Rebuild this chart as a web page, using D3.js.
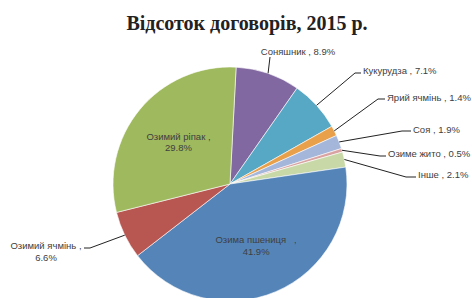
<!DOCTYPE html>
<html>
<head>
<meta charset="utf-8">
<script src="https://cdn.jsdelivr.net/npm/d3@7"></script>
<style>
  body { margin: 0; background: #fff; }
  svg { display: block; }
  text { white-space: pre; }
</style>
</head>
<body>
<svg class="chart"></svg>
<script>
// data
let categories = ['Соняшник', 'Кукурудза', 'Ярий ячмінь', 'Соя', 'Озиме жито', 'Інше', 'Озима пшениця  ', 'Озимий ячмінь', 'Озимий ріпак'];
let values = [8.9, 7.1, 1.4, 1.9, 0.5, 2.1, 41.9, 6.6, 29.8];
let colors = ['#8168a0', '#56a8c4', '#e9a04b', '#a4b6da', '#d9a3a3', '#c9d8a7', '#5585b8', '#b85651', '#9fb95e'];
let title = 'Відсоток договорів, 2015 р.';

let width = 472, height = 298;
let cx = 230, cy = 184, radius = 117;

// label layout, relative to pie centre: inside labels sit on the centroid,
// outside labels get a text spot and an elbow for the leader line
let layout = [
    {out: true, tx: 68, ty: -132, anchor: 'middle', ex: 40, ey: -127, lines: 1},
    {out: true, tx: 133, ty: -113, anchor: 'start', ex: 125, ey: -111, lines: 1},
    {out: true, tx: 157, ty: -86, anchor: 'start', ex: 148, ey: -85, lines: 1},
    {out: true, tx: 183, ty: -54, anchor: 'start', ex: 172, ey: -53, lines: 1},
    {out: true, tx: 158, ty: -30, anchor: 'start', ex: 150, ey: -28, lines: 1},
    {out: true, tx: 188, ty: -9, anchor: 'start', ex: 176, ey: -7, lines: 1},
    {out: false, lines: 2},
    {out: true, tx: -184, ty: 67, anchor: 'middle', ex: -140, ey: 64, lines: 2, tail: -146},
    {out: false, lines: 2}
];

let svg = d3.select('.chart')
    .attr('width', width)
    .attr('height', height);

svg.append('text')
    .attr('x', 247)
    .attr('y', 30)
    .attr('text-anchor', 'middle')
    .style('font-family', '"Liberation Serif", serif')
    .style('font-weight', 'bold')
    .style('font-size', '20px')
    .style('fill', '#222')
    .text(title);

let items = categories.map((c, i) => ({name: c, value: values[i], color: colors[i], lay: layout[i]}));

let pie = d3.pie()
    .sort(null)
    .value((d) => d.value)
    .startAngle(3 * Math.PI / 180)
    .endAngle(Math.PI * 2 + 3 * Math.PI / 180);

let arc = d3.arc().innerRadius(0).outerRadius(radius);
let labelArc = d3.arc().innerRadius(radius * 0.57).outerRadius(radius * 0.57);

let g = svg.append('g')
    .attr('transform', 'translate(' + cx + ',' + cy + ')');

let arcs = pie(items);

g.selectAll('.slice')
    .data(arcs)
    .enter()
    .append('path')
    .attr('class', 'slice')
    .attr('d', arc)
    .style('fill', (d) => d.data.color)
    .style('stroke', '#fff')
    .style('stroke-width', 0.6);

let fmt = (v) => v.toFixed(1) + '%';

// leader lines
g.selectAll('.leader')
    .data(arcs.filter((d) => d.data.lay.out))
    .enter()
    .append('polyline')
    .attr('class', 'leader')
    .attr('points', (d) => {
        let a = (d.startAngle + d.endAngle) / 2;
        let p0 = [Math.sin(a) * radius, -Math.cos(a) * radius];
        let l = d.data.lay;
        let pts = [p0, [l.ex, l.ey]];
        if (l.anchor === 'start') pts.push([l.tx - 2, l.ey]);
        if (l.tail !== undefined) pts.push([l.tail, l.ey]);
        return pts.map((p) => p.join(',')).join(' ');
    })
    .style('fill', 'none')
    .style('stroke', '#222')
    .style('stroke-width', 1);

// labels
let labels = g.selectAll('.label')
    .data(arcs)
    .enter()
    .append('text')
    .attr('class', 'label')
    .attr('text-anchor', (d) => d.data.lay.out ? d.data.lay.anchor : 'middle')
    .attr('transform', (d) => {
        let l = d.data.lay;
        let p = l.out ? [l.tx, l.ty] : labelArc.centroid(d);
        return 'translate(' + p[0] + ',' + p[1] + ')';
    })
    .style('font-family', '"Liberation Sans", Arial, sans-serif')
    .style('font-size', '9.5px')
    .style('fill', '#404040');

labels.each(function(d) {
    let t = d3.select(this);
    if (d.data.lay.lines === 1) {
        t.append('tspan').attr('x', 0).attr('dy', '0.35em')
            .text(d.data.name + ' , ' + fmt(d.data.value));
    } else {
        t.append('tspan').attr('x', 0).attr('dy', '-0.2em').text(d.data.name + ' ,');
        t.append('tspan').attr('x', 0).attr('dy', '1.2em').text(fmt(d.data.value));
    }
});
</script>
</body>
</html>
